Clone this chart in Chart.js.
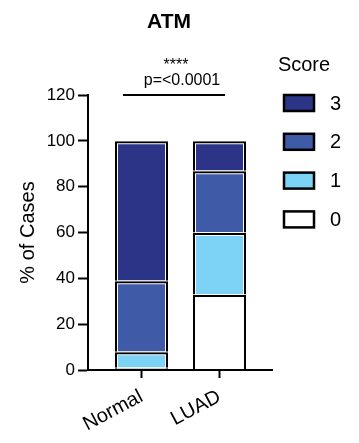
<!DOCTYPE html>
<html>
<head>
<meta charset="utf-8">
<script src="https://cdn.jsdelivr.net/npm/chart.js@4"></script>
<style>
  html, body { margin: 0; padding: 0; background: #fff; }
  #wrap { width: 359px; height: 443px; position: relative; }
</style>
</head>
<body>
<div id="wrap"><canvas id="chart"></canvas></div>
<script>
// ── Data ──────────────────────────────────────────────────────────────────────
const categories  = ['Normal', 'LUAD'];
const scoreLabels = ['0', '1', '2', '3'];
const score0 = [1, 33];
const score1 = [7, 27];
const score2 = [31, 27];
const score3 = [61, 13];
const scoreColors = ['#ffffff', '#7dd3f5', '#3f5ba8', '#2b3487'];
const yMax = 120;
const yStep = 20;

const FONT = "'Liberation Sans', Arial, Helvetica, sans-serif";
Chart.defaults.font.family = FONT;
Chart.defaults.color = '#000';

const seriesValues = [score0, score1, score2, score3];

// one stack per category; each score is a segment
const datasets = seriesValues.map((vals, s) => ({
  label: scoreLabels[s],
  stack: 'cases',
  data: categories.map((c, i) => ({ x: i, y: vals[i] })),
  backgroundColor: scoreColors[s],
  borderColor: '#000',
  borderWidth: 3,
  inflateAmount: -0.5,
  barThickness: 54,
}));

// ── Title, significance bar and legend ────────────────────────────────────────
const decorPlugin = {
  id: 'decor',
  afterDraw(chart) {
    const { ctx, scales: { x, y } } = chart;
    ctx.save();
    ctx.fillStyle = '#000';
    ctx.strokeStyle = '#000';

    // title
    ctx.font = `bold 21px ${FONT}`;
    ctx.textAlign = 'center';
    ctx.textBaseline = 'middle';
    ctx.fillText('ATM', 169, 22);

    // significance bar
    const x0 = x.getPixelForValue(0) - 18.5;
    const x1 = x.getPixelForValue(1) + 5.5;
    const yl = y.getPixelForValue(yMax);
    ctx.lineWidth = 2;
    ctx.beginPath();
    ctx.moveTo(x0, yl);
    ctx.lineTo(x1, yl);
    ctx.stroke();
    const cx = (x0 + x1) / 2;
    ctx.font = `16px ${FONT}`;
    ctx.fillText('****', cx + 2, yl - 29);
    ctx.fillText('p=<0.0001', cx + 8, yl - 14);

    // legend
    ctx.font = `20px ${FONT}`;
    ctx.fillText('Score', 304, 65);
    ctx.textAlign = 'left';
    chart.data.datasets.slice().reverse().forEach((ds, i) => {
      const cy = 103 + i * 38.8;
      ctx.fillStyle = ds.backgroundColor;
      ctx.fillRect(284, cy - 8, 30, 16);
      ctx.lineWidth = 2.5;
      ctx.strokeRect(284, cy - 8, 30, 16);
      ctx.fillStyle = '#000';
      ctx.fillText(ds.label, 330, cy + 1);
    });
    ctx.restore();
  }
};

new Chart(document.getElementById('chart'), {
  type: 'bar',
  data: { datasets },
  plugins: [decorPlugin],
  options: {
    responsive: true,
    maintainAspectRatio: false,
    animation: false,
    layout: { padding: { top: 95, right: 87, left: 0, bottom: 0 } },
    plugins: {
      legend: { display: false },
      tooltip: { enabled: false },
    },
    scales: {
      x: {
        type: 'linear',
        offset: false,
        bounds: 'data',
        min: -0.686,
        max: 1.673,
        afterBuildTicks: s => { s.ticks = categories.map((c, i) => ({ value: i })); },
        afterFit: s => { s.height = 73; },
        ticks: {
          autoSkip: false,
          minRotation: 28,
          maxRotation: 28,
          padding: 7,
          font: { size: 20 },
          color: '#000',
          callback: v => categories[v],
        },
        grid: { offset: false, drawOnChartArea: false, tickLength: 8, tickWidth: 2, tickColor: '#000' },
        border: { color: '#000', width: 2 },
      },
      y: {
        stacked: true,
        min: 0,
        max: yMax,
        afterFit: s => { s.width = 88; },
        ticks: { stepSize: yStep, font: { size: 17 }, color: '#000', padding: 3 },
        grid: { drawOnChartArea: false, tickLength: 10, tickWidth: 2, tickColor: '#000' },
        border: { color: '#000', width: 2 },
        title: {
          display: true,
          text: '% of Cases',
          font: { size: 20 },
          color: '#000',
          padding: { top: 16, bottom: 0 },
        },
      },
    },
  },
});
</script>
</body>
</html>
